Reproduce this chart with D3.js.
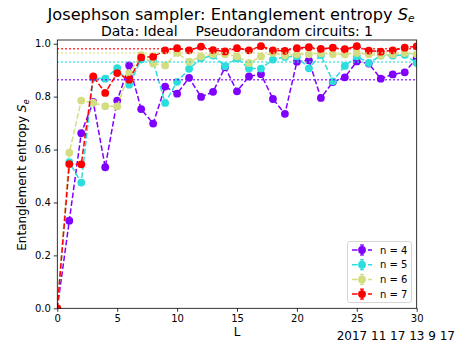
<!DOCTYPE html>
<html><head><meta charset="utf-8">
<script src="https://cdn.jsdelivr.net/npm/d3@7"></script>
<style>body{margin:0;background:#fff}svg{display:block;font-family:"DejaVu Sans",sans-serif}</style>
</head><body>
<svg id="c" width="463" height="347"></svg>
<script>
const Ls = d3.range(0, 31);
const n4 = [0, 0.331, 0.662, 0.78, 0.533, 0.785, 0.918, 0.753, 0.698, 0.838, 0.811, 0.871, 0.799, 0.818, 0.911, 0.82, 0.876, 0.885, 0.791, 0.735, 0.932, 0.937, 0.795, 0.855, 0.873, 0.933, 0.925, 0.868, 0.884, 0.892, 0.945];
const n5 = [0, 0.552, 0.475, 0.87, 0.868, 0.908, 0.845, 0.94, 0.933, 0.776, 0.856, 0.905, 0.945, 0.955, 0.915, 0.945, 0.906, 0.906, 0.94, 0.95, 0.952, 0.907, 0.957, 0.858, 0.916, 0.952, 0.927, 0.955, 0.955, 0.958, 0.927];
const n6 = [0, 0.588, 0.785, 0.777, 0.764, 0.763, 0.889, 0.957, 0.925, 0.918, 0.965, 0.932, 0.952, 0.96, 0.96, 0.952, 0.927, 0.952, 0.965, 0.955, 0.96, 0.96, 0.964, 0.96, 0.96, 0.965, 0.96, 0.955, 0.96, 0.965, 0.96];
const n7 = [0, 0.545, 0.544, 0.876, 0.814, 0.889, 0.864, 0.948, 0.951, 0.975, 0.983, 0.975, 0.989, 0.976, 0.971, 0.983, 0.975, 0.991, 0.975, 0.973, 0.983, 0.987, 0.98, 0.985, 0.979, 0.991, 0.974, 0.97, 0.975, 0.985, 0.99];
const pageVals = [0.864, 0.931, 0.965, 0.981];
const seriesNames = ["n = 4", "n = 5", "n = 6", "n = 7"];
const colors = ["#8000ff", "#2bdddd", "#d4dd80", "#ff0000"];
const xTicks = [0, 5, 10, 15, 20, 25, 30];
const yTicks = [0.0, 0.2, 0.4, 0.6, 0.8, 1.0];
const seriesData = [n4, n5, n6, n7];

const svg = d3.select("#c");
const m = {l: 57.3, r: 416.7, t: 40, b: 308.3};
const x = d3.scaleLinear().domain([0, 30]).range([m.l, m.r]);
const y = d3.scaleLinear().domain([0, 1.014]).range([m.b, m.t]);

svg.append("defs").append("clipPath").attr("id", "clip")
  .append("rect").attr("x", m.l).attr("y", m.t).attr("width", m.r - m.l).attr("height", m.b - m.t);

const plot = svg.append("g").attr("clip-path", "url(#clip)");
seriesData.forEach((vals, i) => {
  const pts = Ls.map((L, j) => [L, vals[j]]);
  plot.append("path").datum(pts)
    .attr("d", d3.line().x(d => x(d[0])).y(d => y(d[1])))
    .attr("fill", "none").attr("stroke", colors[i]).attr("stroke-width", 1.5)
    .attr("stroke-dasharray", "5.55,2.4");
  plot.selectAll(null).data(pts).enter().append("circle")
    .attr("cx", d => x(d[0])).attr("cy", d => y(d[1])).attr("r", 3.9)
    .attr("fill", colors[i]);
});
pageVals.forEach((v, i) => {
  plot.append("line").attr("x1", m.l).attr("x2", m.r).attr("y1", y(v)).attr("y2", y(v))
    .attr("stroke", colors[i]).attr("stroke-width", 1.5).attr("stroke-dasharray", "1.5,2.5");
});

// axes
const xa = svg.append("g").attr("transform", `translate(0,${m.b})`)
  .call(d3.axisBottom(x).tickValues(xTicks).tickFormat(d3.format("d")).tickSize(3.5).tickPadding(3));
const ya = svg.append("g").attr("transform", `translate(${m.l},0)`)
  .call(d3.axisLeft(y).tickValues(yTicks).tickFormat(d3.format(".1f")).tickSize(3.5).tickPadding(3));
[xa, ya].forEach(a => {
  a.select(".domain").remove();
  a.selectAll("text").attr("font-size", 10).attr("fill", "#000").attr("font-family", "DejaVu Sans");
  a.selectAll("line").attr("stroke", "#000").attr("stroke-width", 0.8);
});
svg.append("rect").attr("x", m.l).attr("y", m.t).attr("width", m.r - m.l).attr("height", m.b - m.t)
  .attr("fill", "none").attr("stroke", "#000").attr("stroke-width", 0.8);

// titles
svg.append("text").attr("x", 231).attr("y", 20).attr("text-anchor", "middle").attr("font-size", 16.2)
  .html('Josephson sampler: Entanglement entropy <tspan font-style="italic">S</tspan><tspan font-style="italic" font-size="10.5" dy="2">e</tspan>');
svg.append("text").attr("x", 237).attr("y", 35.5).attr("text-anchor", "middle").attr("font-size", 14)
  .attr("xml:space", "preserve").style("white-space", "pre")
  .text("Data: Ideal    Pseudorandom circuits: 1");
svg.append("text").attr("transform", "translate(26,175) rotate(-90)").attr("text-anchor", "middle").attr("font-size", 12)
  .html('Entanglement entropy <tspan font-style="italic">S</tspan><tspan font-style="italic" font-size="8.5" dy="2.5">e</tspan>');
svg.append("text").attr("x", 237).attr("y", 336).attr("text-anchor", "middle").attr("font-size", 12).text("L");
svg.append("text").attr("x", 455).attr("y", 340).attr("text-anchor", "end").attr("font-size", 12).text("2017 11 17 13 9 17");

// legend
const lg = svg.append("g");
lg.append("rect").attr("x", 347.5).attr("y", 241.5).attr("width", 64).attr("height", 61).attr("rx", 2.5)
  .attr("fill", "#fff").attr("fill-opacity", 0.8).attr("stroke", "#ccc").attr("stroke-width", 0.8);
seriesNames.forEach((nm, i) => {
  const yy = 250 + i * 14.7;
  const g = lg.append("g");
  g.append("line").attr("x1", 352).attr("x2", 372).attr("y1", yy).attr("y2", yy)
    .attr("stroke", colors[i]).attr("stroke-width", 1.5).attr("stroke-dasharray", "5.55,2.4");
  g.append("line").attr("x1", 362).attr("x2", 362).attr("y1", yy - 5).attr("y2", yy + 5).attr("stroke", colors[i]).attr("stroke-width", 1.5);
  g.append("line").attr("x1", 360).attr("x2", 364).attr("y1", yy - 5).attr("y2", yy - 5).attr("stroke", colors[i]).attr("stroke-width", 1.2);
  g.append("line").attr("x1", 360).attr("x2", 364).attr("y1", yy + 5).attr("y2", yy + 5).attr("stroke", colors[i]).attr("stroke-width", 1.2);
  g.append("circle").attr("cx", 362).attr("cy", yy).attr("r", 3.9).attr("fill", colors[i]);
  g.append("text").attr("x", 380).attr("y", yy + 3.6).attr("font-size", 10).text(nm);
});
</script>
</body></html>
